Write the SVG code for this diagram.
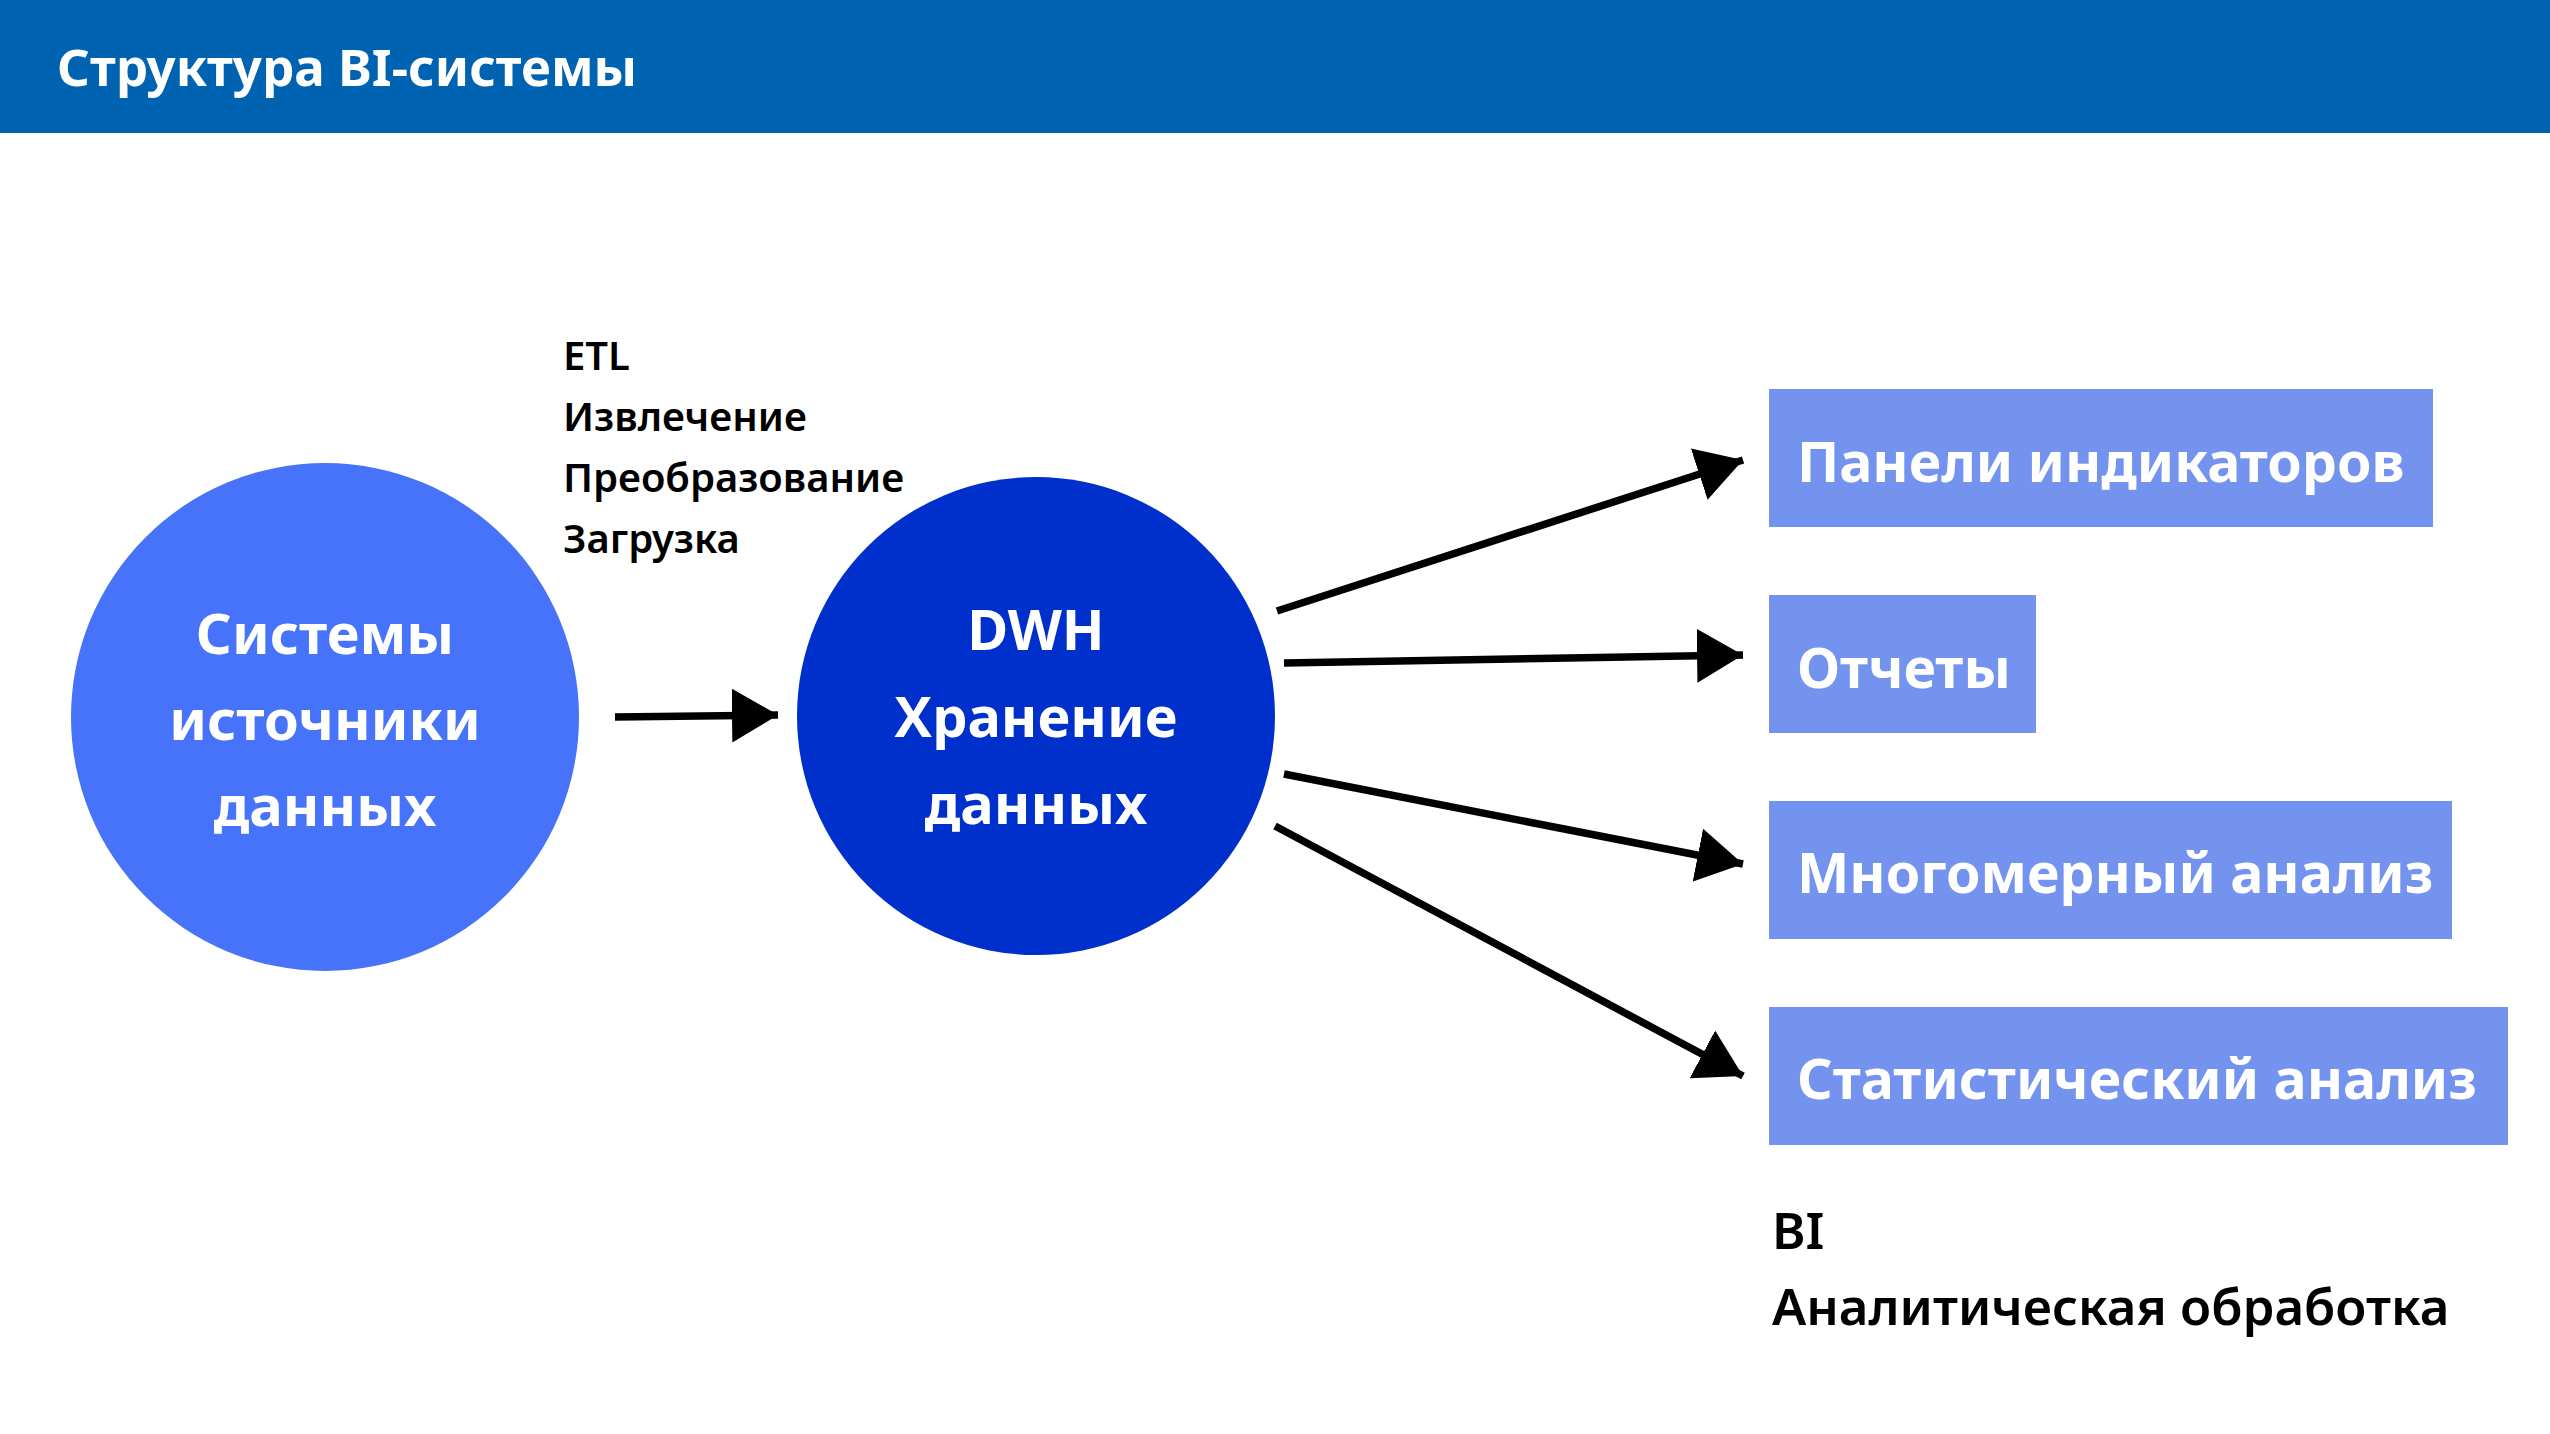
<svg xmlns="http://www.w3.org/2000/svg" width="2550" height="1434" viewBox="0 0 2550 1434">
<style>
.t{font-family:"Noto Sans","Liberation Sans",sans-serif}
.w{fill:#ffffff;font-weight:bold}
.k{fill:#000000;font-weight:600}
.box{fill:#7393EF}
.conn{stroke:#000;stroke-width:7.5;fill:none;marker-end:url(#ah)}
</style>
<defs>
<marker id="ah" viewBox="0 0 46 54" refX="46" refY="27" markerWidth="46" markerHeight="54" markerUnits="userSpaceOnUse" orient="auto">
<path d="M0,0 L46,27 L0,54 z" fill="#000"/>
</marker>
</defs>
<rect width="2550" height="1434" fill="#ffffff"/>
<g id="header">
<rect x="0" y="0" width="2550" height="133" fill="#0063B1"/>
<text class="t w" x="57" y="86" font-size="51">Структура BI-системы</text>
</g>
<g id="connectors">
<line class="conn" x1="615" y1="717" x2="778" y2="715"/>
<line class="conn" x1="1277" y1="611" x2="1743" y2="460"/>
<line class="conn" x1="1284" y1="663" x2="1743" y2="655"/>
<line class="conn" x1="1284" y1="774" x2="1743" y2="864"/>
<line class="conn" x1="1275" y1="826" x2="1743" y2="1076"/>
</g>
<g id="etl-label">
<text class="t k" x="563" y="370" font-size="40">ETL</text>
<text class="t k" x="563" y="431" font-size="40">Извлечение</text>
<text class="t k" x="563" y="492" font-size="40">Преобразование</text>
<text class="t k" x="563" y="553" font-size="40">Загрузка</text>
</g>
<g id="sources">
<circle cx="325" cy="717" r="254" fill="#4673F9"/>
<text class="t w" x="325" y="654" font-size="56" text-anchor="middle">Системы</text>
<text class="t w" x="325" y="740" font-size="56" text-anchor="middle">источники</text>
<text class="t w" x="325" y="826" font-size="56" text-anchor="middle">данных</text>
</g>
<g id="dwh">
<circle cx="1036" cy="716" r="239" fill="#0030CC"/>
<text class="t w" x="1036" y="650" font-size="56" text-anchor="middle">DWH</text>
<text class="t w" x="1036" y="737" font-size="56" text-anchor="middle">Хранение</text>
<text class="t w" x="1036" y="824" font-size="56" text-anchor="middle">данных</text>
</g>
<g id="dashboards">
<rect class="box" x="1769" y="389" width="664" height="138"/>
<text class="t w" x="1797" y="482" font-size="55.5">Панели индикаторов</text>
</g>
<g id="reports">
<rect class="box" x="1769" y="595" width="267" height="138"/>
<text class="t w" x="1797" y="688" font-size="55.5">Отчеты</text>
</g>
<g id="olap">
<rect class="box" x="1769" y="801" width="683" height="138"/>
<text class="t w" x="1797" y="893" font-size="55.5">Многомерный анализ</text>
</g>
<g id="stats">
<rect class="box" x="1769" y="1007" width="739" height="138"/>
<text class="t w" x="1797" y="1099" font-size="55.5">Статистический анализ</text>
</g>
<g id="bi-label">
<text class="t k" x="1772" y="1249" font-size="51">BI</text>
<text class="t k" x="1772" y="1325" font-size="51">Аналитическая обработка</text>
</g>
</svg>
